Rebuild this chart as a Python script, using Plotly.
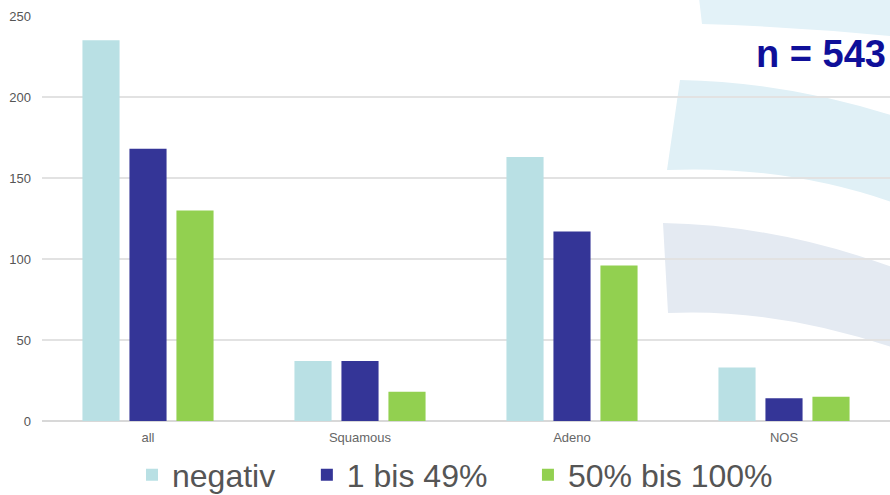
import plotly.graph_objects as go

categories = ["all", "Squamous", "Adeno", "NOS"]
negativ = [235, 37, 163, 33]
bis49 = [168, 37, 117, 14]
bis100 = [130, 18, 96, 15]
series_names = ["negativ", "1 bis 49%", "50% bis 100%"]
colors = ["#b9e0e4", "#343597", "#92d050"]
y_ticks = [0, 50, 100, 150, 200, 250]

W, H = 890, 495
L, R, T, B = 42, 0, 16, 74
pw, ph = W - L - R, H - T - B

def px(x):
    return (x - L) / pw

def py(y):
    return (H - B - y) / ph

fig = go.Figure()
pad = ["\u00a0\u00a0\u00a0", "\u00a0\u00a0\u00a0\u00a0", ""]
for name, vals, c, p in zip(series_names, [negativ, bis49, bis100], colors, pad):
    fig.add_trace(go.Bar(x=categories, y=vals, name=name + p, marker=dict(color=c, line=dict(width=0))))

# decorative background arcs
def band(p):
    (a, b, c_, d, e, f, g, h, i, j, k, l) = p
    return (f"M {px(a)},{py(b)} Q {px(c_)},{py(d)} {px(e)},{py(f)} "
            f"L {px(g)},{py(h)} Q {px(i)},{py(j)} {px(k)},{py(l)} Z")

bands = [
    ((699, -2, 800, -4, 900, -2, 900, 37, 800, 27, 702, 24), "#e3f2f8"),
    ((680, 80, 790, 82, 900, 118, 900, 205, 790, 165, 667, 170), "#e0f0f6"),
    ((663, 223, 780, 225, 900, 270, 900, 350, 780, 308, 668, 313), "#e4eaf2"),
]
shapes = []
for p, c in bands:
    shapes.append(dict(type="path", path=band(p), xref="paper", yref="paper",
                       fillcolor=c, line=dict(width=0), layer="below"))

fig.update_layout(
    width=W, height=H,
    margin=dict(l=L, r=R, t=T, b=B, autoexpand=False),
    paper_bgcolor="white", plot_bgcolor="rgba(0,0,0,0)",
    barmode="group", bargap=0.335, bargroupgap=0.21,
    font=dict(family="Liberation Sans, Arial, sans-serif", color="#555555"),
    shapes=shapes,
    showlegend=True,
    legend=dict(orientation="h", x=px(455), xanchor="center", y=py(475), yanchor="middle",
                font=dict(size=32, color="#555555"), bgcolor="rgba(0,0,0,0)",
                itemwidth=30, tracegroupgap=0),
    annotations=[dict(text="<b>n = 543</b>", x=px(888), xref="paper", xanchor="right",
                      y=py(54), yref="paper", yanchor="middle", showarrow=False,
                      font=dict(size=38, color="#0f0f99", family="Liberation Sans, Arial, sans-serif"))],
)
fig.update_xaxes(showgrid=False, showline=False, ticks="", tickfont=dict(size=13, color="#666666"),
                 ticklabelstandoff=7)
fig.update_yaxes(range=[0, 250], tickvals=y_ticks, showgrid=True, gridcolor="#e2e2e2", gridwidth=1.5,
                 zeroline=True, zerolinecolor="#d8d8d8", zerolinewidth=1.5,
                 tickfont=dict(size=13, color="#555555"), ticklabelstandoff=10)

fig.write_html("out.html", config={"displayModeBar": False},
               post_script="document.body.style.margin='0';document.body.style.overflow='hidden';")
